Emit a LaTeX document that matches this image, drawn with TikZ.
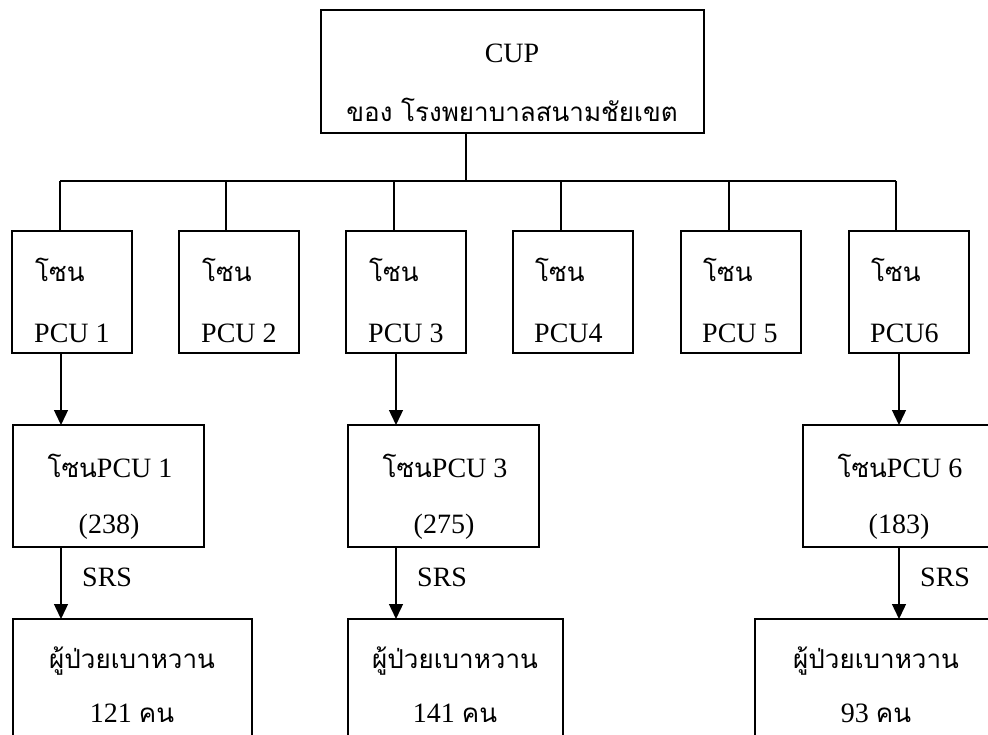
\documentclass[tikz,border=0pt]{standalone}
\usepackage{fontspec}
\setmainfont{Liberation Serif}
\newfontfamily\thai[Script=Thai]{Loma}
\usetikzlibrary{arrows.meta}
\tikzset{
  box/.style={draw, line width=2pt, inner sep=0pt, outer sep=0pt, anchor=north west},
  conn/.style={line width=1.4pt},
  arr/.style={line width=1.4pt, -{Triangle[width=14pt,length=15pt]}},
  lat/.style={font=\fontsize{28}{30}\selectfont, inner sep=0pt},
  th/.style={font=\thai\fontsize{26}{30}\selectfont, inner sep=0pt},
}
\begin{document}
\begin{tikzpicture}[x=1pt,y=-1pt]
\useasboundingbox (0,0) rectangle (988,735);
\clip (0,0) rectangle (988,735);
\fill[white] (0,0) rectangle (988,735);
% top box
\node[box, minimum width=383pt, minimum height=123pt] (cup) at (321,10) {};
\node[lat, anchor=base] (cupt) at (512,63) {CUP};
\node[th, anchor=base] (cupth) at (512,122) {ของ โรงพยาบาลสนามชัยเขต};
% zone boxes
\foreach \i/\x in {1/12,2/179,3/346,4/513,5/681,6/849}{
  \node[box, minimum width=120pt, minimum height=122pt] (z\i) at (\x,231) {};
}
\foreach \i/\x/\t in {1/35/PCU 1,2/202/PCU 2,3/369/PCU 3,4/535/PCU4,5/703/PCU 5,6/871/PCU6}{
  \node[th, anchor=base west] (zt\i) at (\x,282) {โซน};
  \node[lat, anchor=base west] (zp\i) at (\x-1,342) {\t};
}
% bus
\coordinate (hub) at (466,181);
\foreach \i/\x in {1/60,2/226,3/394,4/561,5/729,6/896}{
  \coordinate (l\i) at (\x,181);
}
\draw[conn] (cup.south -| hub) -- (hub);
\draw[conn] (l1) -- (l6);
\foreach \i in {1,...,6}{
  \draw[conn] (l\i) -- (z\i.north -| l\i);
}
% row 3
\node[box, minimum width=191pt, minimum height=122pt] (r1) at (13,425) {};
\node[box, minimum width=191pt, minimum height=122pt] (r3) at (348,425) {};
\node[box, minimum width=194pt, minimum height=122pt] (r6) at (803,425) {};
\node[lat, anchor=base] (r1a) at (110,477) {{\thai\fontsize{26}{30}\selectfont โซน}PCU 1};
\node[lat, anchor=base] (r1b) at (109,533) {(238)};
\node[lat, anchor=base] (r3a) at (445,477) {{\thai\fontsize{26}{30}\selectfont โซน}PCU 3};
\node[lat, anchor=base] (r3b) at (444,533) {(275)};
\node[lat, anchor=base] (r6a) at (900,477) {{\thai\fontsize{26}{30}\selectfont โซน}PCU 6};
\node[lat, anchor=base] (r6b) at (899,533) {(183)};
% row 4
\node[box, minimum width=239pt, minimum height=160pt] (p1) at (13,619) {};
\node[box, minimum width=215pt, minimum height=160pt] (p3) at (348,619) {};
\node[box, minimum width=242pt, minimum height=160pt] (p6) at (755,619) {};
\node[th, anchor=base] (p1a) at (132,668) {ผู้ป่วยเบาหวาน};
\node[lat, anchor=base] (p1b) at (132,722) {121 {\thai\fontsize{26}{30}\selectfont คน}};
\node[th, anchor=base] (p3a) at (455,668) {ผู้ป่วยเบาหวาน};
\node[lat, anchor=base] (p3b) at (455,722) {141 {\thai\fontsize{26}{30}\selectfont คน}};
\node[th, anchor=base] (p6a) at (876,668) {ผู้ป่วยเบาหวาน};
\node[lat, anchor=base] (p6b) at (876,722) {93 {\thai\fontsize{26}{30}\selectfont คน}};
% arrows
\coordinate (a1) at (61,0);
\coordinate (a3) at (396,0);
\coordinate (a6) at (899,0);
\draw[arr] (z1.south -| a1) -- (r1.north -| a1);
\draw[arr] (z3.south -| a3) -- (r3.north -| a3);
\draw[arr] (z6.south -| a6) -- (r6.north -| a6);
\draw[arr] (r1.south -| a1) -- (p1.north -| a1);
\draw[arr] (r3.south -| a3) -- (p3.north -| a3);
\draw[arr] (r6.south -| a6) -- (p6.north -| a6);
\node[lat, anchor=base west] (s1) at (82,586) {SRS};
\node[lat, anchor=base west] (s3) at (417,586) {SRS};
\node[lat, anchor=base west] (s6) at (920,586) {SRS};
\end{tikzpicture}
\end{document}
